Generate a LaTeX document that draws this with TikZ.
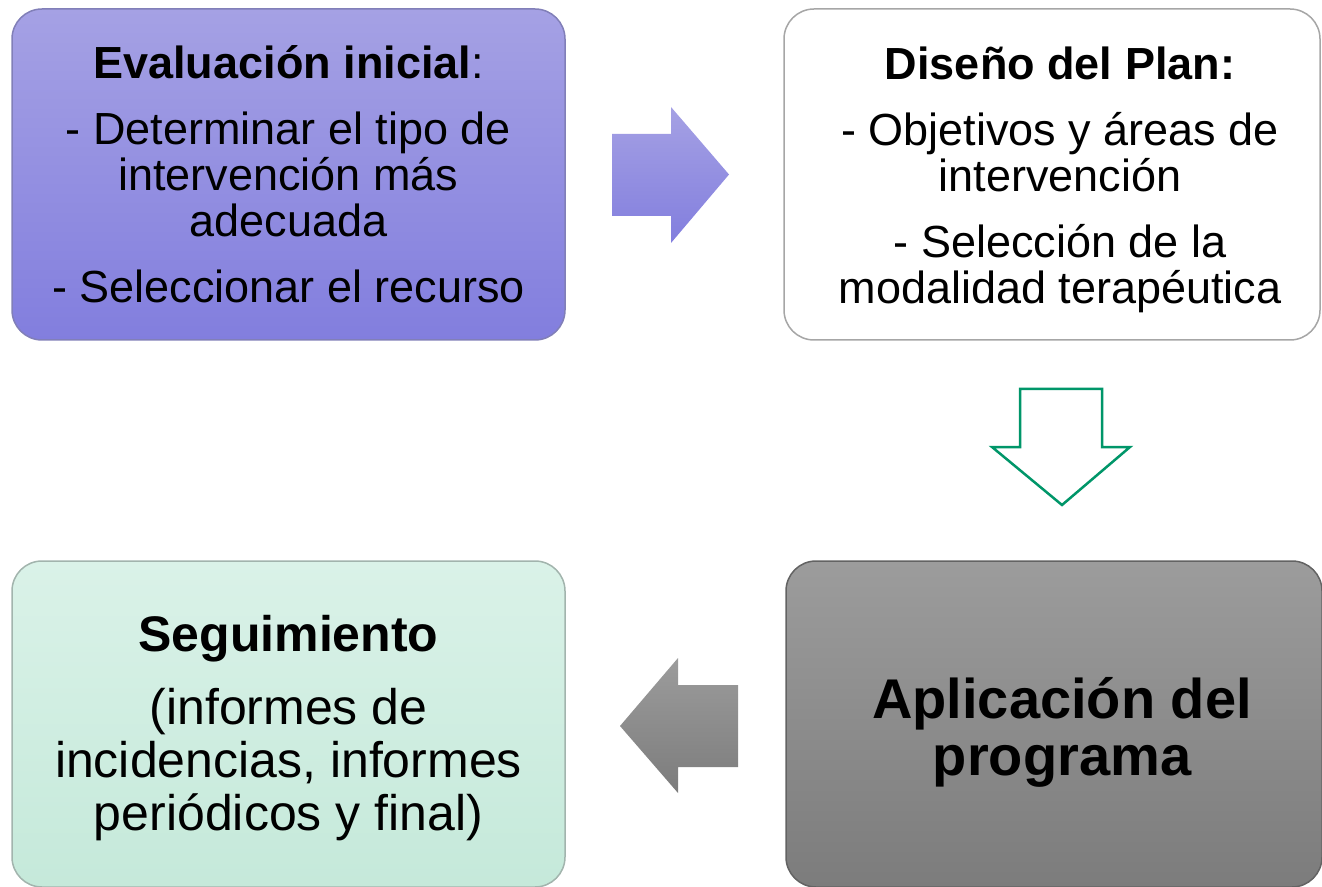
\documentclass[tikz,border=0pt]{standalone}
\usepackage{fontspec}
\setmainfont{Liberation Sans}
\usepackage{xcolor}
\definecolor{ColA}{RGB}{165,161,228}
\definecolor{ColB}{RGB}{130,126,222}
\definecolor{ColC}{RGB}{218,242,232}
\definecolor{ColD}{RGB}{197,233,218}
\definecolor{ColE}{RGB}{156,156,156}
\definecolor{ColF}{RGB}{124,124,124}
\definecolor{ColG}{RGB}{0,150,105}
\usepackage{tikz}
\usetikzlibrary{shapes}
\tikzstyle{Box}=[rectangle,rounded corners=15pt,line width=.75pt,
align=center,inner sep=0pt,minimum height=165.5pt]
\tikzstyle{BoxEval}=[Box,draw=ColB!60!gray,top color=ColA,bottom color=ColB,
minimum width=276.5pt]
\tikzstyle{BoxPlan}=[Box,draw=gray!70,fill=white,minimum width=268pt]
\tikzstyle{BoxSegui}=[Box,draw=ColD!50!gray,top color=ColC,bottom color=ColD,
minimum width=276.5pt,minimum height=163pt]
\tikzstyle{BoxAplic}=[Box,draw=ColF!80!black,top color=ColE,bottom color=ColF,
minimum width=268pt,minimum height=163pt]
\tikzstyle{TextN}=[align=center,font=\fontsize{22.5}{23}\selectfont]
\tikzstyle{TextS}=[align=center,font=\fontsize{25}{26.5}\selectfont]
\tikzstyle{TextB}=[align=center,font=\fontsize{28}{28.5}\selectfont\bfseries]
\begin{document}
\begin{tikzpicture}[x=.5pt,y=-.5pt]
        \useasboundingbox(0,0)rectangle(1322,887);
        \node[BoxEval,TextN](eval)at(288.5,174.5){\textbf{Evaluación inicial}:\\[10pt]
            - Determinar el tipo de\\intervención más\\adecuada\\[10pt]
            - Seleccionar el recurso};
        \node[BoxPlan](plan)at(1052,174.5){};
        \node[TextN](plantext)at([xshift=4pt,yshift=-2.75pt]plan.center){\textbf{Diseño del Plan:}\\[10pt]
            - Objetivos y áreas de\\intervención\\[10pt]
            - Selección de la\\modalidad terapéutica};
        \node[BoxSegui](segui)at(288.5,724){};
        \node[TextS](seguitext)at([yshift=-2pt]segui.center){\textbf{Seguimiento}\\[10pt]
            (informes de\\incidencias, informes\\periódicos y final)};
        \node[BoxAplic](aplic)at(1054,724){};
        \node[TextB](aplictext)at([xshift=4pt,yshift=-4pt]aplic.center){Aplicación del\\programa};
        \shade[top color=ColA,bottom color=ColB](612,134)--(671,134)--(671,107)
            --(729,174.5)--(671,243)--(671,216)--(612,216)--cycle;
        \draw[ColG,line width=1.25pt,fill=white](1020,389)--(1102,389)--(1102,447)
            --(1130,447)--(1062,505)--(992,447)--(1020,447)--cycle;
        \shade[top color=ColE,bottom color=ColF](738,685)--(678,685)--(678,658)
            --(620,726)--(678,793)--(678,767)--(738,767)--cycle;
    \end{tikzpicture}
\end{document}
